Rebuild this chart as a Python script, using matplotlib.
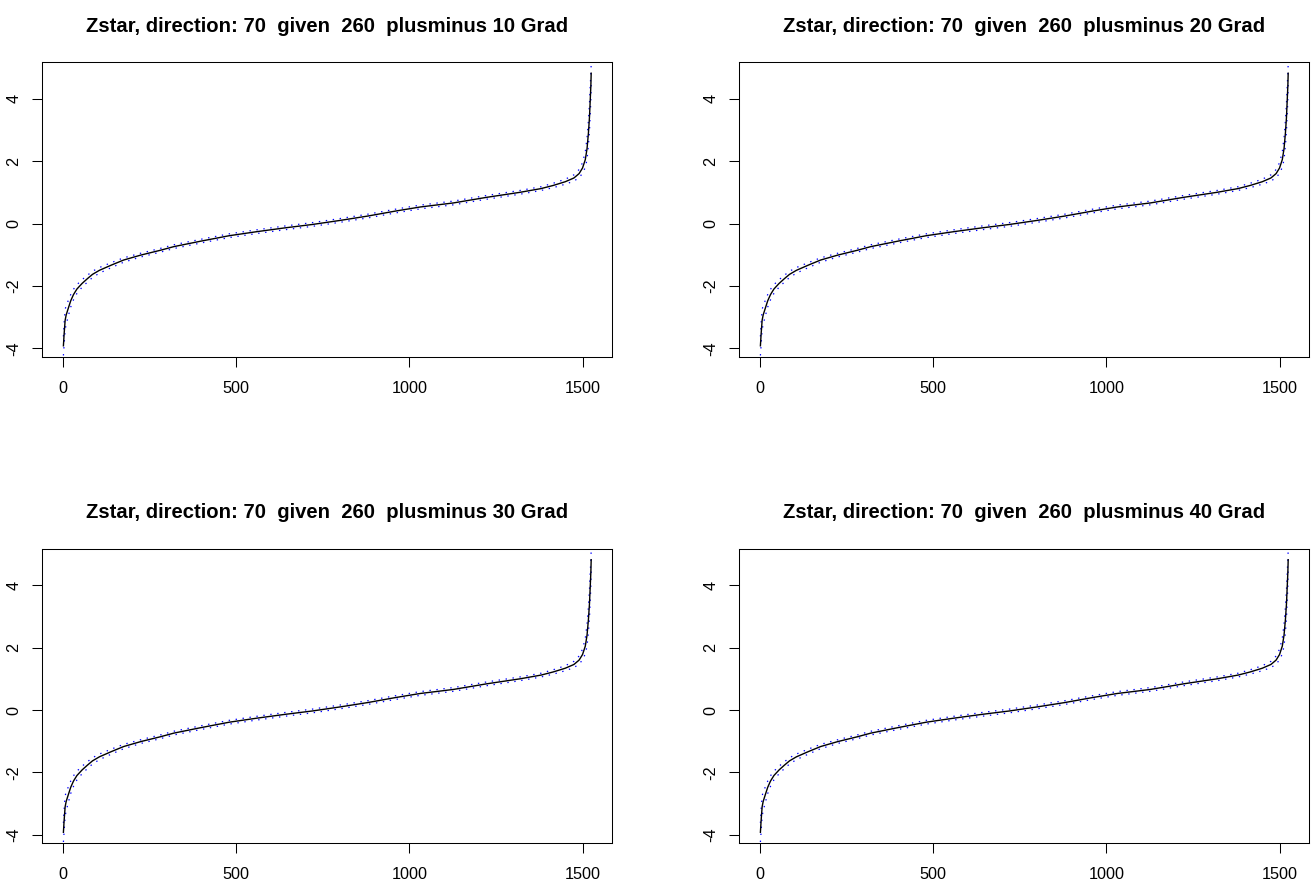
import matplotlib
matplotlib.use("Agg")
import matplotlib.pyplot as plt

plt.rcParams['font.family'] = ['Liberation Sans', 'DejaVu Sans']
plt.rcParams['axes.unicode_minus'] = False

# ---- data (sorted Zstar values by index) ----
idx = [1, 3, 6, 9, 15, 22, 30, 40, 55, 70, 85, 105, 140, 175, 225, 280, 320,
       400, 480, 560, 640, 720, 800, 880, 960, 1031, 1127, 1223, 1319, 1380,
       1415, 1450, 1475, 1490, 1500, 1508, 1513, 1517, 1520, 1522, 1524, 1525]
zstar = [-3.92, -3.55, -3.10, -2.93, -2.72, -2.48, -2.28, -2.10, -1.92, -1.77,
         -1.63, -1.50, -1.33, -1.17, -1.01, -0.86, -0.74, -0.56, -0.39, -0.26,
         -0.14, -0.03, 0.10, 0.24, 0.40, 0.53, 0.66, 0.84, 1.00, 1.12,
         1.22, 1.34, 1.46, 1.60, 1.78, 2.05, 2.40, 2.90, 3.40, 3.90, 4.40, 4.82]
upper = [-3.62, -3.20, -2.75, -2.63, -2.47, -2.28, -2.11, -1.96, -1.80, -1.66,
         -1.53, -1.41, -1.25, -1.10, -0.95, -0.80, -0.68, -0.50, -0.33, -0.20,
         -0.08, 0.03, 0.16, 0.30, 0.46, 0.59, 0.72, 0.90, 1.06, 1.18,
         1.29, 1.42, 1.56, 1.73, 1.95, 2.30, 2.75, 3.30, 3.85, 4.35, 4.80, 5.12]
lower = [-4.23, -3.90, -3.40, -3.23, -2.97, -2.68, -2.45, -2.24, -2.04, -1.88,
         -1.73, -1.59, -1.41, -1.24, -1.07, -0.92, -0.80, -0.62, -0.45, -0.32,
         -0.20, -0.09, 0.04, 0.18, 0.34, 0.47, 0.60, 0.78, 0.94, 1.06,
         1.15, 1.26, 1.36, 1.47, 1.61, 1.80, 2.05, 2.50, 2.95, 3.45, 3.95, 4.47]

tolerances = [10, 20, 30, 40]
title_fmt = "Zstar, direction: 70  given  260  plusminus {} Grad"
x_ticks = [0, 500, 1000, 1500]
y_ticks = [-4, -2, 0, 2, 4]

W, H = 1314, 884
fig = plt.figure(figsize=(W / 100, H / 100), dpi=100)

# axes boxes in pixel coordinates (left, top, right, bottom)
boxes = [(42.3, 62.3, 612.3, 356.7), (739.3, 62.3, 1309.3, 356.7),
         (42.3, 548.8, 612.3, 843.2), (739.3, 548.8, 1309.3, 843.2)]

def pad_lim(vals, frac=0.04):
    lo, hi = min(vals), max(vals)
    r = hi - lo
    return lo - frac * r, hi + frac * r

for (l, t, r, b), tol in zip(boxes, tolerances):
    ax = fig.add_axes([l / W, 1 - b / H, (r - l) / W, (b - t) / H])
    ax.plot(idx, upper, color='blue', lw=0.9, linestyle=(0, (1.1, 4.5)))
    ax.plot(idx, lower, color='blue', lw=0.9, linestyle=(0, (1.1, 4.5)))
    ax.plot(idx, zstar, color='black', lw=1.0)
    ax.set_xlim(*pad_lim(idx))
    ax.set_ylim(*pad_lim(zstar))
    ax.set_xticks(x_ticks)
    ax.set_yticks(y_ticks)
    ax.set_xticklabels([str(v) for v in x_ticks])
    ax.set_yticklabels([str(v) for v in y_ticks])
    ax.tick_params(axis='both', direction='out', length=7.2, width=0.75,
                   labelsize=11.7, color='black')
    ax.tick_params(axis='x', pad=10)
    ax.tick_params(axis='y', pad=8, labelrotation=90)
    for lab in ax.get_yticklabels():
        lab.set_verticalalignment('center')
    for s in ax.spines.values():
        s.set_linewidth(0.75)
    ax.set_title(title_fmt.format(tol), fontsize=14.6, fontweight='bold',
                 pad=22)

fig.savefig("out.png", dpi=100)
